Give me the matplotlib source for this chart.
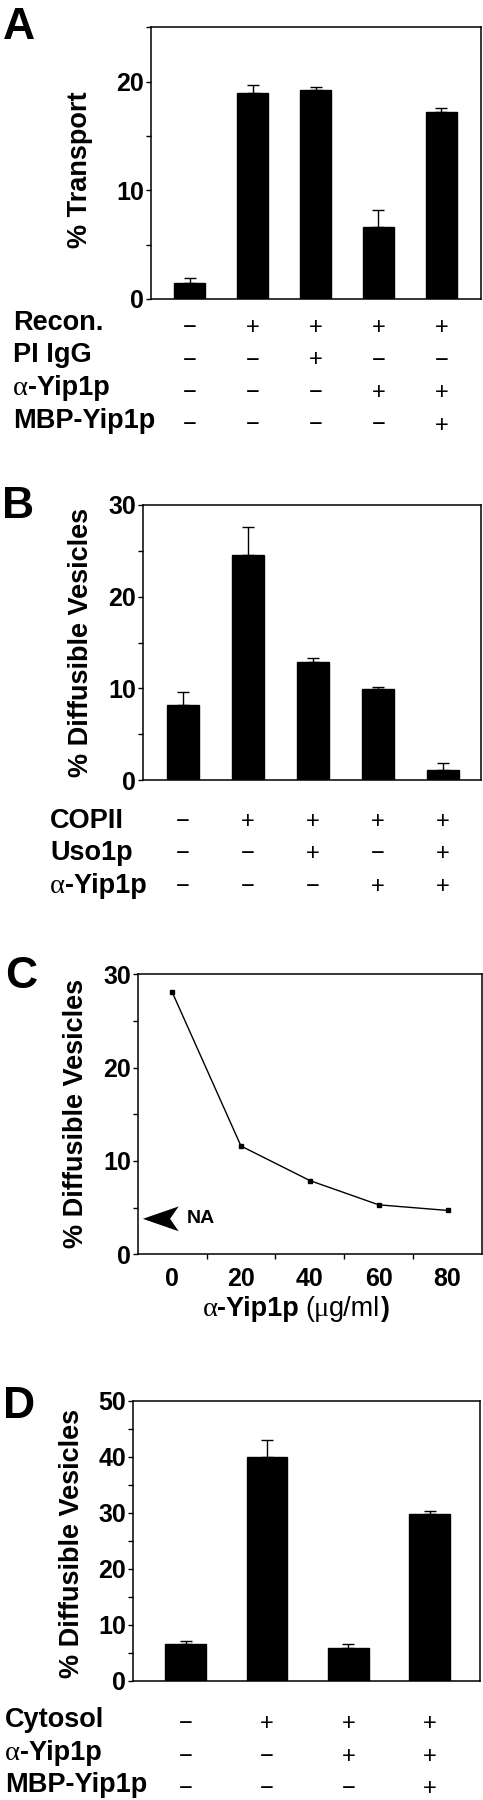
import matplotlib
matplotlib.use('Agg')
import matplotlib.pyplot as plt
import matplotlib.transforms as mtransforms
import numpy as np
from matplotlib.patches import Polygon
from matplotlib.ticker import MultipleLocator, FixedLocator

plt.rcParams['font.family'] = ['Liberation Sans', 'DejaVu Sans']
plt.rcParams['font.weight'] = 'bold'

W, H = 483, 1800

# ---- data ----
# A
a_rows = ['Recon.', 'PI IgG', 'α-Yip1p', 'MBP-Yip1p']
a_signs = [['−', '+', '+', '+', '+'],
           ['−', '−', '+', '−', '−'],
           ['−', '−', '−', '+', '+'],
           ['−', '−', '−', '−', '+']]
a_vals = [1.5, 19.0, 19.2, 6.6, 17.2]
a_err = [0.45, 0.7, 0.3, 1.6, 0.4]

# B
b_rows = ['COPII', 'Uso1p', 'α-Yip1p']
b_signs = [['−', '+', '+', '+', '+'],
           ['−', '−', '+', '−', '+'],
           ['−', '−', '−', '+', '+']]
b_vals = [8.2, 24.6, 12.9, 9.9, 1.1]
b_err = [1.4, 3.0, 0.4, 0.25, 0.8]

# C
c_dose = [0, 20, 40, 60, 80]
c_vals = [28.1, 11.6, 7.9, 5.3, 4.7]
c_na = 3.8

# D
d_rows = ['Cytosol', 'α-Yip1p', 'MBP-Yip1p']
d_signs = [['−', '+', '+', '+'],
           ['−', '−', '+', '+'],
           ['−', '−', '−', '+']]
d_vals = [6.6, 40.0, 5.9, 29.8]
d_err = [0.5, 3.0, 0.65, 0.5]

fig = plt.figure(figsize=(W / 100, H / 100), dpi=100)
rend = fig.canvas.get_renderer()


def px_ax(l, t, r, b):
    return fig.add_axes([l / W, 1 - b / H, (r - l) / W, (b - t) / H])


def style(ax, ymax, major, minor):
    ax.set_ylim(0, ymax)
    ax.yaxis.set_major_locator(MultipleLocator(major))
    ax.yaxis.set_minor_locator(MultipleLocator(minor))
    ax.tick_params(axis='y', which='both', direction='out', length=3.5, width=1,
                   pad=1.5, labelsize=18, left=True, right=False)
    ax.tick_params(axis='x', which='both', bottom=False, top=False, labelbottom=False)
    for s in ax.spines.values():
        s.set_linewidth(1.1)


def bars(ax, vals, err):
    x = np.arange(len(vals))
    ax.bar(x, vals, width=0.5, color='black', edgecolor='black')
    ax.errorbar(x, vals, yerr=[np.zeros(len(vals)), err], fmt='none', ecolor='black',
                elinewidth=1, capsize=4, capthick=1)


def mixed(x, y, parts, ha='left'):
    # parts: (text, props) ; a number means a gap in px
    items = []
    for p in parts:
        if isinstance(p, (int, float)):
            items.append((None, p))
            continue
        s, kw = p
        t = fig.text(0, 0, s, va='baseline', ha='left', **kw)
        items.append((t, t.get_window_extent(rend).width))
    total = sum(w for _, w in items)
    if ha == 'center':
        x -= total / 2
    for t, w in items:
        if t is not None:
            t.set_position((x / W, 1 - y / H))
        x += w


def row_label(x, y, s, size=19.5):
    if s.startswith('α'):
        mixed(x, y, [('α', dict(family='Liberation Serif', weight='normal', fontsize=size + 1)),
                     (s[1:], dict(fontsize=size, weight='bold'))])
    else:
        fig.text(x / W, 1 - y / H, s, fontsize=size, weight='bold', va='baseline', ha='left')


def table(ax, rows, signs, lab_x, baselines, sign_dy):
    tr = mtransforms.blended_transform_factory(ax.transData, fig.transFigure)
    for i, (name, row) in enumerate(zip(rows, signs)):
        row_label(lab_x, baselines[i], name)
        for j, s in enumerate(row):
            fig.text(j, 1 - (baselines[i] + sign_dy) / H, s, transform=tr, ha='center',
                     va='baseline', fontsize=17, weight='normal')


def ylab(x, y, s):
    fig.text(x / W, 1 - y / H, s, rotation=90, ha='center', va='center',
             fontsize=19.5, weight='bold')


def letter(x, y, s):
    fig.text(x / W, 1 - y / H, s, ha='left', va='top', fontsize=32, weight='bold')


# ---- A ----
axA = px_ax(150.7, 27.3, 481, 299)
bars(axA, a_vals, a_err)
axA.set_xlim(-0.62, 4.63)
style(axA, 25, 10, 5)
table(axA, a_rows, a_signs, 13, [330, 362.5, 395, 427.5], 4)
ylab(80, 170, '% Transport')
letter(3, 7, 'A')

# ---- B ----
axB = px_ax(142.7, 505, 481, 780)
bars(axB, b_vals, b_err)
axB.set_xlim(-0.62, 4.585)
style(axB, 30, 10, 5)
table(axB, b_rows, b_signs, 50, [828, 860, 892.7], 0)
ylab(81, 642, '% Diffusible Vesicles')
letter(2, 486, 'B')

# ---- C ----
axC = px_ax(137.7, 974.3, 482, 1254.3)
axC.plot(c_dose, c_vals, color='black', lw=1, marker='s', ms=3)
axC.set_xlim(-10, 90)
style(axC, 30, 10, 5)
axC.xaxis.set_major_locator(FixedLocator(c_dose))
axC.xaxis.set_minor_locator(FixedLocator([10, 30, 50, 70]))
axC.tick_params(axis='x', which='major', bottom=True, labelbottom=True, length=0,
                pad=9, labelsize=18)
axC.tick_params(axis='x', which='minor', bottom=True, direction='out', length=3.5, width=1)
# NA arrowhead
hh = 1.33
axC.add_patch(Polygon([(-8.5, c_na), (1.9, c_na + hh), (-0.6, c_na), (1.9, c_na - hh)],
                      closed=True, color='black', lw=0))
axC.text(4.2, c_na, 'NA', fontsize=14, weight='bold', va='center', ha='left')
ylab(76, 1113, '% Diffusible Vesicles')
mixed(296, 1316, [('α', dict(family='Liberation Serif', weight='normal', fontsize=20.5)),
                  ('-Yip1p', dict(fontsize=19.5, weight='bold')), 6,
                  ('(', dict(fontsize=19.5, weight='normal')),
                  ('μ', dict(family='Liberation Serif', weight='normal', fontsize=20.5)),
                  ('g/ml', dict(fontsize=19.5, weight='normal')),
                  (')', dict(fontsize=19.5, weight='bold'))], ha='center')
letter(5, 956, 'C')

# ---- D ----
axD = px_ax(133.3, 1400.7, 480, 1680.7)
bars(axD, d_vals, d_err)
axD.set_xlim(-0.645, 3.62)
style(axD, 50, 10, 5)
table(axD, d_rows, d_signs, 5, [1726.7, 1759.5, 1791.7], 3.5)
ylab(72, 1543, '% Diffusible Vesicles')
letter(3, 1386, 'D')

fig.savefig('out.png', dpi=100)
